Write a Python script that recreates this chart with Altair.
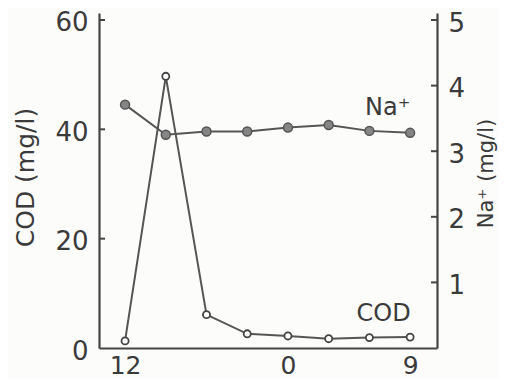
import altair as alt
import pandas as pd

hours = [12, 15, 18, 21, 0, 3, 6, 9]
cod = [1.3, 49.7, 6.1, 2.6, 2.2, 1.7, 1.9, 2.0]
na = [3.71, 3.25, 3.30, 3.30, 3.36, 3.40, 3.31, 3.28]
shown_hours = [12, 0, 9]
cod_ticks = [20, 40, 60]
na_ticks = [1, 2, 3, 4, 5]

idx = list(range(len(hours)))
df = pd.DataFrame({"idx": idx, "hour": hours, "cod": cod, "na": na})

FONT = "DejaVu Sans"
INK = "#444444"
TXT = "#3a3a3a"

label_map = {i: h for i, h in zip(idx, hours) if h in shown_hours}
label_expr = " : ".join(f"datum.value == {i} ? '{h}'" for i, h in label_map.items()) + " : ''"

xs = alt.Scale(domain=[-0.64, 7.66], nice=False, zero=False)
x_axis = alt.Axis(
    values=list(label_map.keys()), labelExpr=label_expr, ticks=False, grid=False,
    title=None, labelFontSize=25, labelPadding=5, labelFont=FONT,
    labelColor=TXT, domainColor=INK, domainWidth=2.2)

cod_scale = alt.Scale(domain=[0, 61.28], nice=False)
na_scale = alt.Scale(domain=[0, 5.107], nice=False)

cod_axis = alt.Axis(
    orient="left", values=[0, 20, 40, 60], ticks=False, grid=False,
    title="COD (mg/l)", titleFontSize=25, titleFontWeight="normal",
    titleFont=FONT, titleColor=TXT, titleX=-74, titleY=164,
    titleAlign="center", titleBaseline="middle", titleAngle=270,
    labelFontSize=26, labelFont=FONT, labelColor=TXT, labelPadding=11,
    labelOffset=3,
    domainColor=INK, domainWidth=2.2)
na_axis = alt.Axis(
    orient="right", values=[0, 1, 2, 3, 4, 5], ticks=False, grid=False,
    title="Na⁺ (mg/l)", titleFontSize=21, titleFontWeight="normal",
    titleFont=FONT, titleColor=TXT, titleX=49, titleY=160,
    titleAlign="center", titleBaseline="middle", titleAngle=270,
    labelFontSize=26, labelFont=FONT, labelColor=TXT, labelPadding=11,
    labelOffset=3,
    labelExpr="datum.value == 0 ? '' : datum.label",
    domainColor=INK, domainWidth=2.2)

X = alt.X("idx:Q", scale=xs, axis=x_axis)

cod_line = alt.Chart(df).mark_line(color="#555", strokeWidth=2).encode(
    x=X, y=alt.Y("cod:Q", scale=cod_scale, axis=cod_axis))
cod_pts = alt.Chart(df).mark_point(shape="circle", filled=True, fill="white",
                                    stroke="#444", strokeWidth=1.8, size=50, opacity=1).encode(
    x=X, y=alt.Y("cod:Q", scale=cod_scale, axis=cod_axis))
cod_tick_layer = alt.Chart(pd.DataFrame({"v": cod_ticks})).mark_rule(color=INK, strokeWidth=2).encode(
    y=alt.Y("v:Q", scale=cod_scale, axis=cod_axis), x=alt.value(0), x2=alt.value(6))
cod_text = alt.Chart(pd.DataFrame({"idx": [6.35], "v": [6.2], "t": ["COD"]})).mark_text(
    font=FONT, fontSize=24, color=TXT).encode(
    x=X, y=alt.Y("v:Q", scale=cod_scale, axis=cod_axis), text="t:N")

na_line = alt.Chart(df).mark_line(color="#555", strokeWidth=2).encode(
    x=X, y=alt.Y("na:Q", scale=na_scale, axis=na_axis))
na_pts = alt.Chart(df).mark_point(shape="circle", filled=True, fill="#858585",
                                   stroke="#555", strokeWidth=1.5, size=80, opacity=1).encode(
    x=X, y=alt.Y("na:Q", scale=na_scale, axis=na_axis))
na_tick_layer = alt.Chart(pd.DataFrame({"v": na_ticks})).mark_rule(color=INK, strokeWidth=2).encode(
    y=alt.Y("v:Q", scale=na_scale, axis=na_axis), x=alt.value(332), x2=alt.value(338))
na_text = alt.Chart(pd.DataFrame({"idx": [6.45], "v": [3.66], "t": ["Na⁺"]})).mark_text(
    font=FONT, fontSize=24, color=TXT).encode(
    x=X, y=alt.Y("v:Q", scale=na_scale, axis=na_axis), text="t:N")

cod_layer = alt.layer(cod_line, cod_pts, cod_tick_layer, cod_text)
na_layer = alt.layer(na_line, na_pts, na_tick_layer, na_text)

chart = alt.layer(cod_layer, na_layer).resolve_scale(y="independent").properties(
    width=338, height=335,
    autosize=alt.AutoSizeParams(type="none"),
    padding={"left": 91, "top": 5, "right": 62, "bottom": 31},
    background="#fcfcfa",
).configure_view(stroke=None)

chart.save("out.html", embed_options={"renderer": "svg", "actions": False})
